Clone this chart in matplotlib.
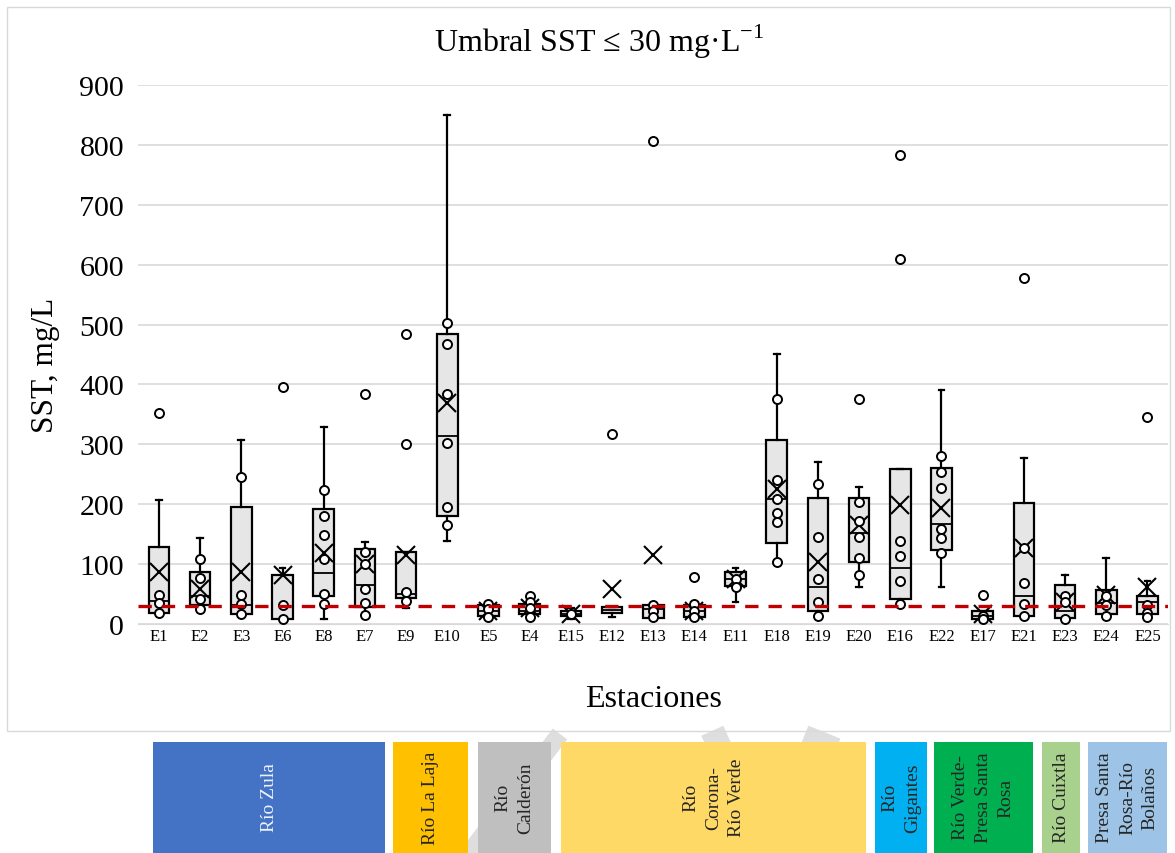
import matplotlib
matplotlib.use('Agg')
import matplotlib.pyplot as plt
from matplotlib.patches import Rectangle
from matplotlib.lines import Line2D

plt.rcParams['font.family'] = ['Liberation Serif', 'DejaVu Serif']

#	-	-	-	-	-	DATA	-	-	-	-	-	#
stations = ['E1', 'E2', 'E3', 'E6', 'E8', 'E7', 'E9', 'E10', 'E5', 'E4', 'E15', 'E12', 'E13',
            'E14', 'E11', 'E18', 'E19', 'E20', 'E16', 'E22', 'E17', 'E21', 'E23', 'E24', 'E25']

q1 =     [19, 32, 16, 9, 46, 29, 43, 181, 14, 17, 14, 19, 10, 11, 63, 136, 22, 104, 41, 123, 8, 13, 10, 17, 17]
median = [38, 46, 32, 9, 85, 65, 50, 314, 21, 21, 17, 24, 25, 21, 75, 209, 61, 152, 93, 167, 14, 46, 22, 35, 36]
q3 =     [128, 86, 196, 82, 192, 125, 121, 485, 31, 33, 22, 28, 32, 31, 86, 308, 211, 211, 258, 261, 22, 202, 65, 57, 47]
wlow =   [19, 25, 16, 9, 8, 15, 27, 138, 8, 11, 8, 12, 10, 11, 37, 104, 14, 61, 34, 62, 8, 13, 8, 14, 11]
whigh =  [207, 144, 307, 94, 329, 137, 121, 850, 31, 33, 26, 28, 32, 33, 93, 451, 271, 229, 258, 391, 22, 278, 82, 110, 71]
means =  [86, 58, 87, 81, 119, 100, 115, 369, 22, 26, 16, 59, 115, 22, 75, 226, 103, 166, 198, 193, 17, 127, 37, 48, 61]

points = [
    [49, 35, 18], [108, 76, 42, 25], [246, 48, 34, 16], [32, 8],
    [224, 180, 148, 108, 50, 34], [121, 100, 59, 35, 15], [53, 39],
    [502, 467, 384, 302, 196, 166], [34, 25, 11], [46, 36, 26, 11], [17],
    [], [31, 21, 11], [33, 22, 11], [75, 61],
    [376, 240, 209, 186, 171, 104], [233, 146, 75, 37, 14], [204, 172, 146, 111, 82],
    [138, 114, 71, 34], [280, 253, 227, 158, 143, 118], [14, 8],
    [127, 68, 33, 13], [47, 36, 8], [46, 31, 14], [31, 19, 11],
]
outliers = [
    [352], [], [], [396], [], [384], [485, 300], [], [], [], [], [317], [806],
    [78], [], [], [], [376], [783, 609], [], [48], [578], [], [], [346],
]

threshold = 30

basins = ['Río Zula', 'Río La Laja', 'Río\nCalderón', 'Río\nCorona-\nRío Verde', 'Río\nGigantes',
          'Río Verde-\nPresa Santa\nRosa', 'Río Cuixtla', 'Presa Santa\nRosa-Río\nBolaños']
basin_colors = ['#4472C4', '#FFC000', '#BFBFBF', '#FFD966', '#00B0F0', '#00B050', '#A9D18E', '#9DC3E6']
basin_text = ['#EEF2FA', '#262626', '#262626', '#262626', '#262626', '#262626', '#262626', '#262626']
#	band edges in pixels (left, right)
basin_x = [(153, 385), (393, 468), (478, 551), (561, 866), (875, 927), (934, 1033), (1042, 1080), (1088, 1167)]

#	-	-	-	-	-	FIGURE	-	-	-	-	-	#
W, H = 1175, 854
fig = plt.figure(figsize=(W / 100, H / 100), dpi=100)

#	chart frame
fig.patches.append(Rectangle((7 / W, 1 - 732 / H), (1170 - 7) / W, (732 - 8) / H,
                             transform=fig.transFigure, fill=False, edgecolor='#D9D9D9', lw=1))

ax = fig.add_axes([138 / W, 1 - 625 / H, (1168 - 138) / W, (625 - 86) / H])

stats = []
for i in range(len(stations)):
    stats.append({'label': stations[i], 'q1': q1[i], 'med': median[i], 'q3': q3[i],
                  'whislo': wlow[i], 'whishi': whigh[i], 'mean': means[i], 'fliers': []})

pos = list(range(len(stations)))
ax.bxp(stats, positions=pos, widths=0.5, patch_artist=True, showmeans=True, showfliers=False,
       boxprops=dict(facecolor='#E7E6E6', edgecolor='black', lw=1.6),
       medianprops=dict(color='black', lw=1.3),
       whiskerprops=dict(color='black', lw=1.6),
       capprops=dict(color='black', lw=1.6),
       capwidths=0.14,
       meanprops=dict(marker='x', markeredgecolor='black', markersize=13, markeredgewidth=1.5),
       zorder=3)

for i in pos:
    allp = points[i] + outliers[i]
    ax.plot([i] * len(allp), allp, 'o', mfc='white', mec='black', ms=6.5, mew=1.4, zorder=4, ls='none')

ax.axhline(threshold, color='#C00000', lw=2.4, ls=(0, (4, 3)), zorder=5)

ax.set_xlim(-0.51, 24.5)
ax.set_ylim(0, 900)
ax.set_yticks(range(0, 901, 100))
ax.set_xticks(pos)
ax.set_xticklabels(stations, fontsize=12)
ax.tick_params(axis='y', labelsize=21.5, length=0, pad=10)
ax.tick_params(axis='x', length=0, pad=3)
ax.grid(axis='y', color='#D9D9D9', lw=1.2)
ax.set_axisbelow(True)
for s in ['left', 'right', 'top']:
    ax.spines[s].set_visible(False)
ax.spines['bottom'].set_color('#D9D9D9')

fig.text(599 / W, 1 - 42 / H, 'Umbral SST ≤ 30 mg·L$^{\\mathregular{-1}}$', ha='center', va='center', fontsize=23)
fig.text(46 / W, 1 - 365 / H, 'SST, mg/L', rotation=90, ha='center', va='center', fontsize=22.5)
fig.text(653 / W, 1 - 700 / H, 'Estaciones', ha='center', va='center', fontsize=23)

#	faint watermark strokes behind the bands
for (xa, ya, xb, yb) in [(560, 735, 468, 856), (705, 745, 727, 735), (805, 735, 837, 748)]:
    fig.add_artist(Line2D([xa / W, xb / W], [1 - ya / H, 1 - yb / H], transform=fig.transFigure,
                          color='#DEDEDE', lw=13, solid_capstyle='butt', zorder=0))

#	river basin bands
for name, col, tc, (xl, xr) in zip(basins, basin_colors, basin_text, basin_x):
    fig.patches.append(Rectangle((xl / W, 0), (xr - xl) / W, (854 - 743) / H,
                                 transform=fig.transFigure, facecolor=col, edgecolor='none', zorder=1))
    fig.text((xl + xr) / 2 / W, (854 - 798) / H, name, rotation=90, ha='center', va='center',
             fontsize=14, color=tc, linespacing=1.45, zorder=2, multialignment='center')

fig.savefig('out.png', dpi=100)
